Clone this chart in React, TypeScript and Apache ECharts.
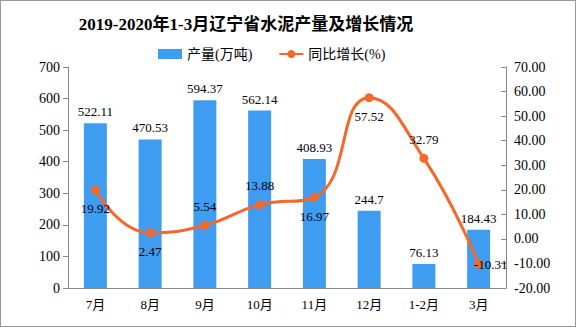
import React, { useEffect, useRef } from "react";
import * as echarts from "echarts";

const categories = ["7月", "8月", "9月", "10月", "11月", "12月", "1-2月", "3月"];
const production = [522.11, 470.53, 594.37, 562.14, 408.93, 244.7, 76.13, 184.43];
const growth = [19.92, 2.47, 5.54, 13.88, 16.97, 57.52, 32.79, -10.31];
const growthLabelPos = ["bottom", "bottom", "top", "top", "bottom", "bottom", "top", "inside"];

export default function App() {
  const ref = useRef<HTMLDivElement>(null);
  useEffect(() => {
    const chart = echarts.init(ref.current!, null, { renderer: "svg" });
    const font = "'Liberation Serif', 'Noto Sans CJK SC', serif";
    chart.setOption({
      animation: false,
      backgroundColor: "#ffffff",
      title: {
        text: "2019-2020年1-3月辽宁省水泥产量及增长情况",
        left: 240,
        textAlign: "center",
        top: 10,
        textStyle: { fontSize: 17, fontWeight: "bold", color: "#000", fontFamily: font },
      },
      legend: {
        left: 152,
        top: 41,
        itemGap: 26,
        itemWidth: 24,
        itemHeight: 10,
        textStyle: { fontSize: 14, color: "#000", fontFamily: font },
        data: [
          { name: "产量(万吨)", icon: "rect" },
          { name: "同比增长(%)" },
        ],
      },
      grid: { left: 67, right: 69, top: 66, bottom: 38 },
      xAxis: {
        type: "category",
        data: categories,
        axisLine: { lineStyle: { color: "#888" } },
        axisTick: { lineStyle: { color: "#888" } },
        axisLabel: { color: "#000", fontSize: 13, fontFamily: font, margin: 10 },
      },
      yAxis: [
        {
          type: "value",
          min: 0,
          max: 700,
          interval: 100,
          axisLine: { show: true, lineStyle: { color: "#888" } },
          axisTick: { show: true, lineStyle: { color: "#888" } },
          splitLine: { show: false },
          axisLabel: { color: "#000", fontSize: 14, fontFamily: font },
        },
        {
          type: "value",
          min: -20,
          max: 70,
          interval: 10,
          position: "right",
          axisLine: { show: true, lineStyle: { color: "#888" } },
          axisTick: { show: true, inside: true, lineStyle: { color: "#888" } },
          splitLine: { show: false },
          axisLabel: {
            color: "#000",
            fontSize: 14,
            fontFamily: font,
            formatter: (v: number) => v.toFixed(2),
          },
        },
      ],
      series: [
        {
          name: "产量(万吨)",
          type: "bar",
          data: production,
          barWidth: 23,
          itemStyle: { color: "#3e9df0" },
          label: {
            show: true,
            position: "top",
            color: "#000",
            fontSize: 13,
            fontFamily: font,
          },
        },
        {
          name: "同比增长(%)",
          type: "line",
          yAxisIndex: 1,
          smooth: true,
          data: growth.map((v, i) => ({
            value: v,
            label: { position: growthLabelPos[i], offset: growthLabelPos[i] === "inside" ? [12, 0] : [0, 0] },
          })),
          symbol: "circle",
          symbolSize: 9,
          lineStyle: { color: "#f5672a", width: 3 },
          itemStyle: { color: "#f5672a" },
          label: {
            show: true,
            color: "#000",
            fontSize: 13,
            fontFamily: font,
            distance: 8,
          },
        },
      ],
    });
    return () => chart.dispose();
  }, []);
  return (
    <div
      ref={ref}
      style={{ width: 576, height: 327, position: "absolute", left: 0, top: 0, border: "1px solid #999", boxSizing: "border-box" }}
    />
  );
}
